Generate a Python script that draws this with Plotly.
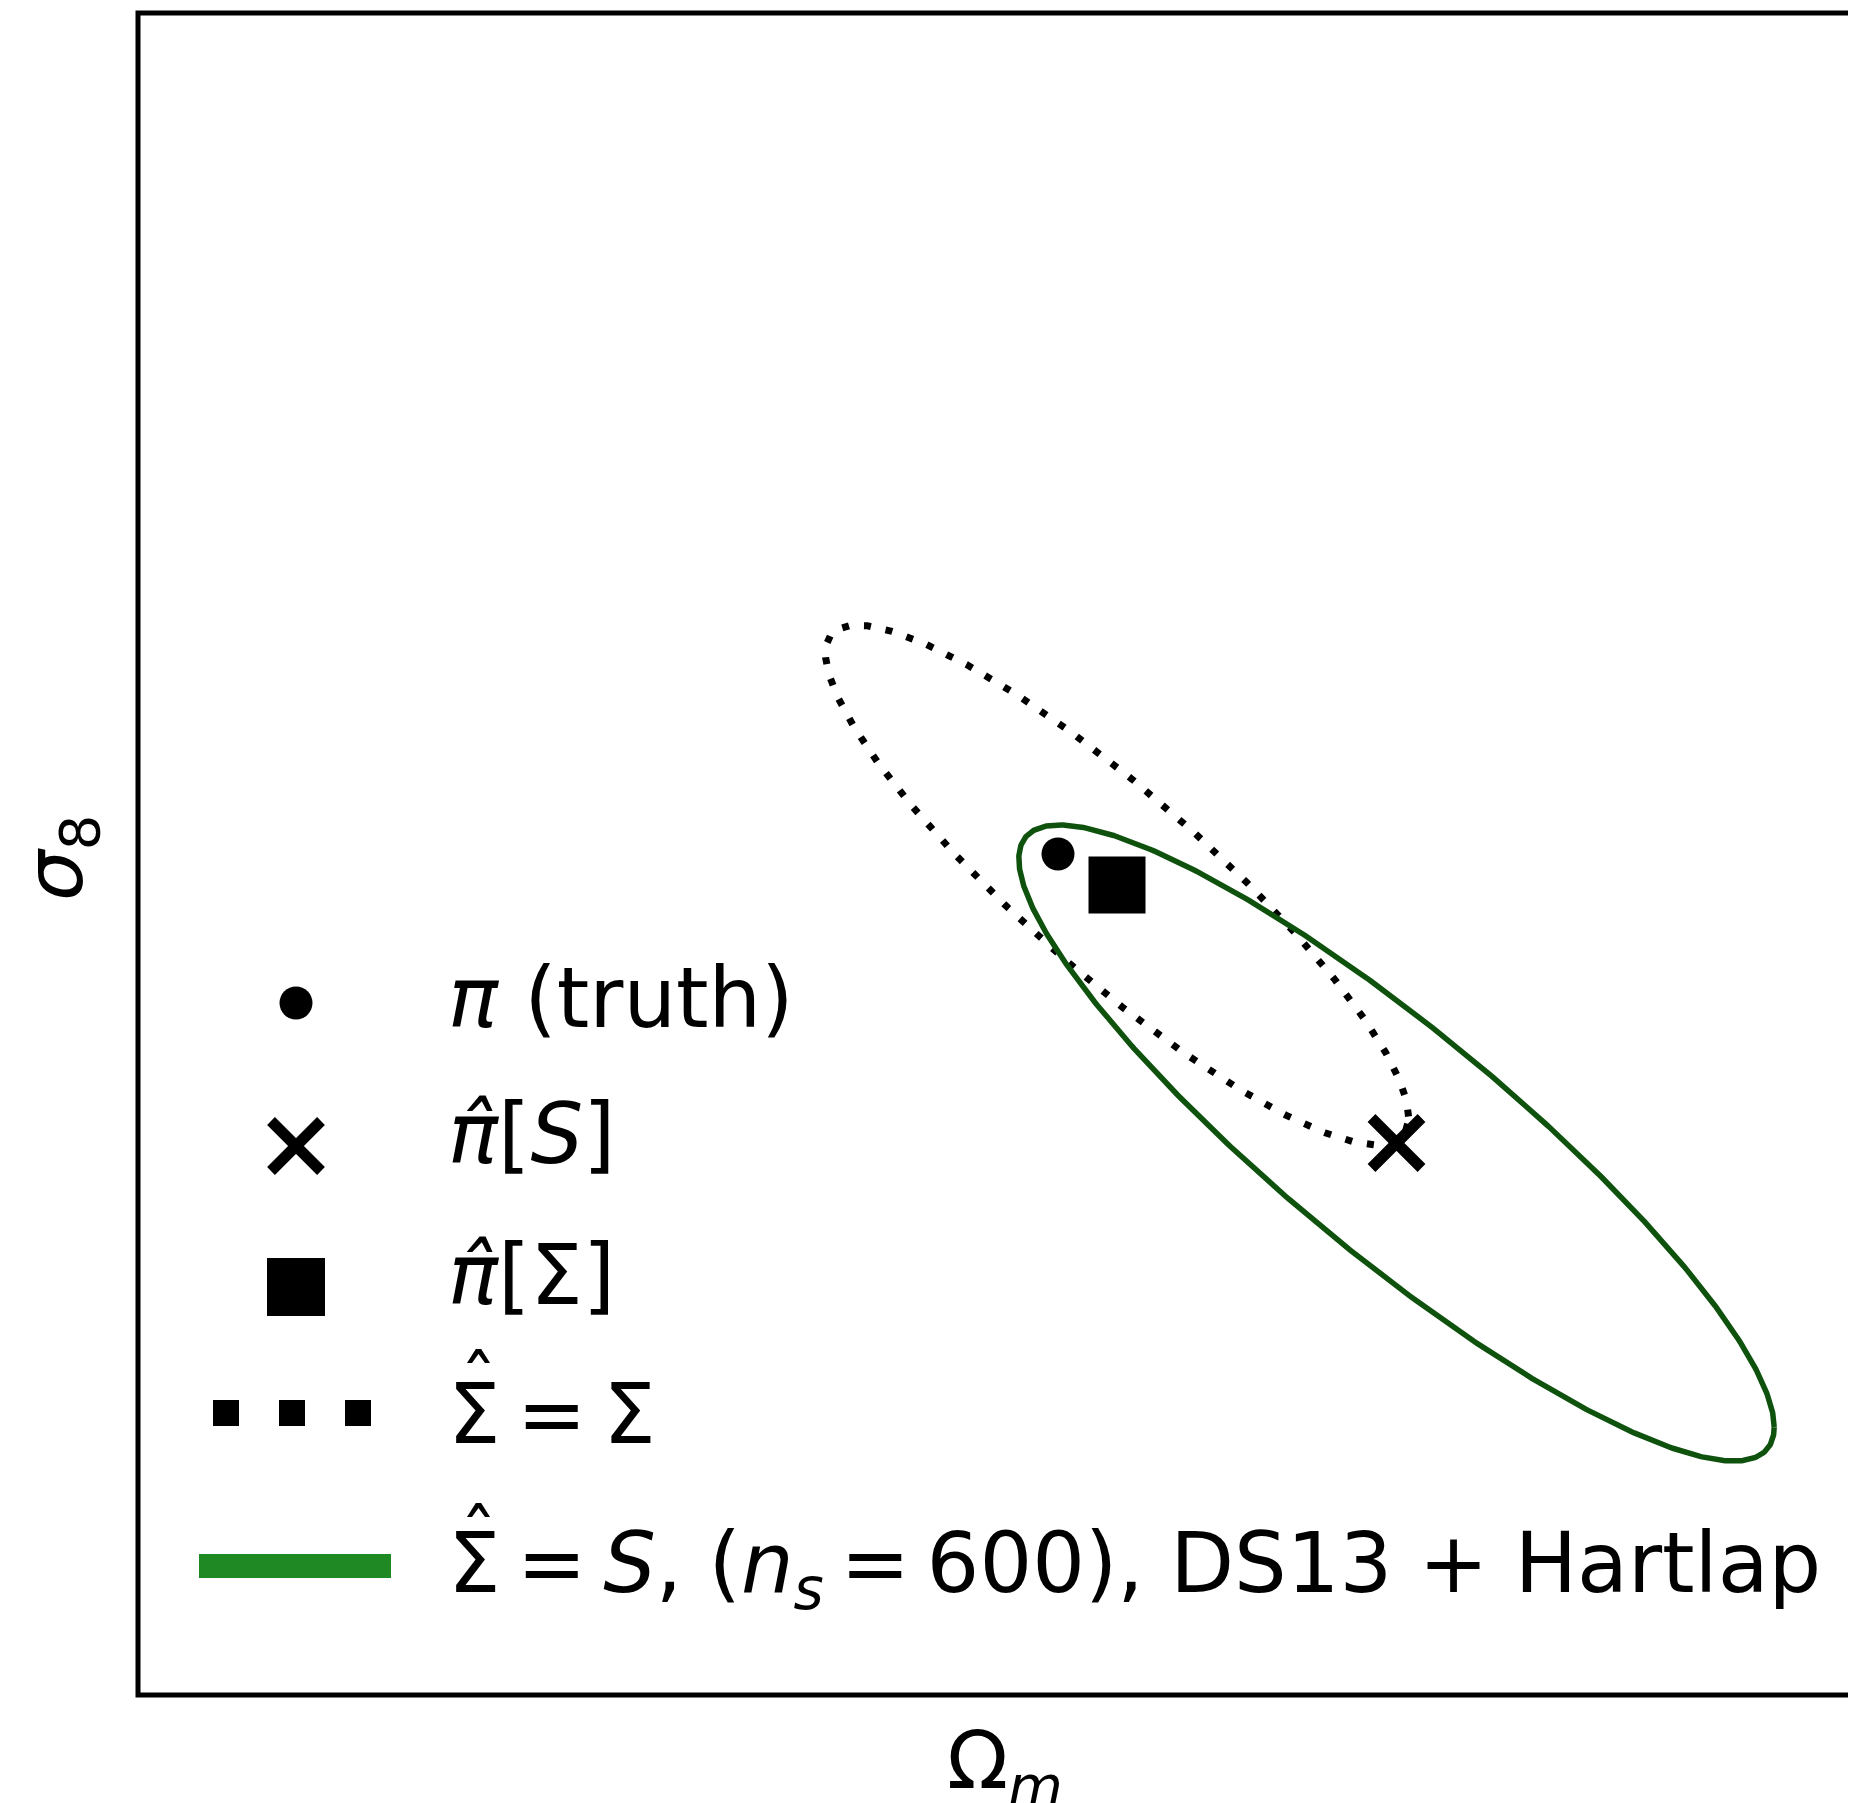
import numpy as np
import plotly.graph_objects as go

# ---------------- data ----------------
# parameter space: (Omega_m, sigma_8)
truth = [0.3000, 0.8000]            # pi (truth)
est_S = [0.3677, 0.7422]            # pi-hat[S]
est_Sigma = [0.3118, 0.7938]        # pi-hat[Sigma]
# contour matrices of the two ellipses (Omega_m, sigma_8)
cov_Sigma = [[3.40e-3, -2.70e-3],
             [-2.70e-3, 2.70e-3]]
cov_S_DS13 = [[5.706e-3, -4.291e-3],
              [-4.291e-3, 4.045e-3]]
x_range = [0.1160, 0.4596]
y_range = [0.6318, 0.9682]

TS = "\u2009"  # thin space (math spacing)
legend_labels = [
    "<i>π</i> (truth)",
    "<i>π̂</i>[<i>S</i>]",
    "<i>π̂</i>[Σ]",
    f"Σ{TS}={TS}Σ",
    f"Σ{TS}={TS}<i>S</i>, (<i>n</i><sub><i>s</i></sub>{TS}={TS}600), DS13 + Hartlap",
]
hat_rows = [3, 4]                   # rows whose leading Σ carries a hat
x_label = "Ω<sub><i>m</i></sub>"
y_label = "<i>σ</i><sub>8</sub>"

# ---------------- figure geometry (page pixels; body has an 8px margin) ----------------
OFF = 8
W, H = 1856 - OFF, 1803 - OFF
L, T, B, R = 138, 13, 1695, 1856      # plot area edges in page pixels
FONT = "DejaVu Sans"
FS = 83
GREEN_DARK = "#0e520e"
GREEN = "#1f8a24"


def px2paper(px, py):
    return (px - L) / (R - L), (B - py) / (B - T)


def ellipse(center, cov, n=721):
    t = np.linspace(0, 2 * np.pi, n)
    Lc = np.linalg.cholesky(np.array(cov))
    pts = (Lc @ np.vstack([np.cos(t), np.sin(t)])).T + np.array(center)
    return pts[:, 0], pts[:, 1]


fig = go.Figure()

ex, ey = ellipse(est_Sigma, cov_Sigma)
fig.add_trace(go.Scatter(x=ex, y=ey, mode="lines",
                         line=dict(color="black", width=7, dash="7px,15px"),
                         hoverinfo="skip"))
gx, gy = ellipse(est_S, cov_S_DS13)
fig.add_trace(go.Scatter(x=gx, y=gy, mode="lines",
                         line=dict(color=GREEN_DARK, width=5.5),
                         hoverinfo="skip"))

fig.add_trace(go.Scatter(x=[truth[0]], y=[truth[1]], mode="markers",
                         marker=dict(symbol="circle", size=33, color="black")))
fig.add_trace(go.Scatter(x=[est_Sigma[0]], y=[est_Sigma[1]], mode="markers",
                         marker=dict(symbol="square", size=57, color="black")))
fig.add_trace(go.Scatter(x=[est_S[0]], y=[est_S[1]], mode="markers",
                         marker=dict(symbol="x-thin", size=50, color="black",
                                     line=dict(width=11, color="black"))))

# ---------------- hand-made legend (pixel overlay axes) ----------------
LX = 296
rows_y = [1003, 1146, 1287, 1413, 1566]
fig.add_trace(go.Scatter(x=[LX], y=[rows_y[0]], xaxis="x2", yaxis="y2", mode="markers",
                         marker=dict(symbol="circle", size=33, color="black")))
fig.add_trace(go.Scatter(x=[LX], y=[rows_y[1]], xaxis="x2", yaxis="y2", mode="markers",
                         marker=dict(symbol="x-thin", size=50, color="black",
                                     line=dict(width=11, color="black"))))
fig.add_trace(go.Scatter(x=[LX], y=[rows_y[2]], xaxis="x2", yaxis="y2", mode="markers",
                         marker=dict(symbol="square", size=58, color="black")))

shapes = [
    dict(type="line", xref="x2", yref="y2", x0=213, x1=371, y0=rows_y[3], y1=rows_y[3],
         line=dict(color="black", width=26, dash="26px,40px")),
    dict(type="line", xref="x2", yref="y2", x0=199, x1=391, y0=rows_y[4], y1=rows_y[4],
         line=dict(color=GREEN, width=24)),
    # frame: left, top, bottom (right edge lies outside the window)
    dict(type="path", xref="paper", yref="paper",
         path="M 1.02,0 L 0,0 L 0,1 L 1.02,1",
         line=dict(color="black", width=5)),
]

text_y = [998, 1134, 1275, 1414, 1569]
hat_y = [1383, 1537]
annotations = []
for lab, yy in zip(legend_labels, text_y):
    annotations.append(dict(x=446, y=yy, xref="x2", yref="y2", text=lab, showarrow=False,
                            xanchor="left", yanchor="middle",
                            font=dict(family=FONT, size=FS, color="black")))
for r, hy in zip(hat_rows, hat_y):
    annotations.append(dict(x=478, y=hy, xref="x2", yref="y2", text="ˆ", showarrow=False,
                            xanchor="center", yanchor="middle",
                            font=dict(family=FONT, size=74, color="black")))

xl_x, xl_y = px2paper(1005, 1766)
annotations.append(dict(x=xl_x, y=xl_y, xref="paper", yref="paper", text=x_label,
                        showarrow=False, xanchor="center", yanchor="middle",
                        font=dict(family=FONT, size=80, color="black")))
yl_x, yl_y = px2paper(60, 858)
annotations.append(dict(x=yl_x, y=yl_y, xref="paper", yref="paper", text=y_label,
                        showarrow=False, xanchor="center", yanchor="middle", textangle=-90,
                        font=dict(family=FONT, size=80, color="black")))

fig.update_layout(
    width=W, height=H,
    margin=dict(l=L - OFF, r=0, t=T - OFF, b=(H + OFF) - B, pad=0),
    paper_bgcolor="white", plot_bgcolor="white",
    showlegend=False,
    xaxis=dict(range=x_range, visible=False, fixedrange=True),
    yaxis=dict(range=y_range, visible=False, fixedrange=True),
    xaxis2=dict(range=[L, R], overlaying="x", anchor="y2", visible=False, fixedrange=True),
    yaxis2=dict(range=[B, T], overlaying="y", anchor="x2", visible=False, fixedrange=True),
    shapes=shapes,
    annotations=annotations,
)

fig.write_html("out.html")
